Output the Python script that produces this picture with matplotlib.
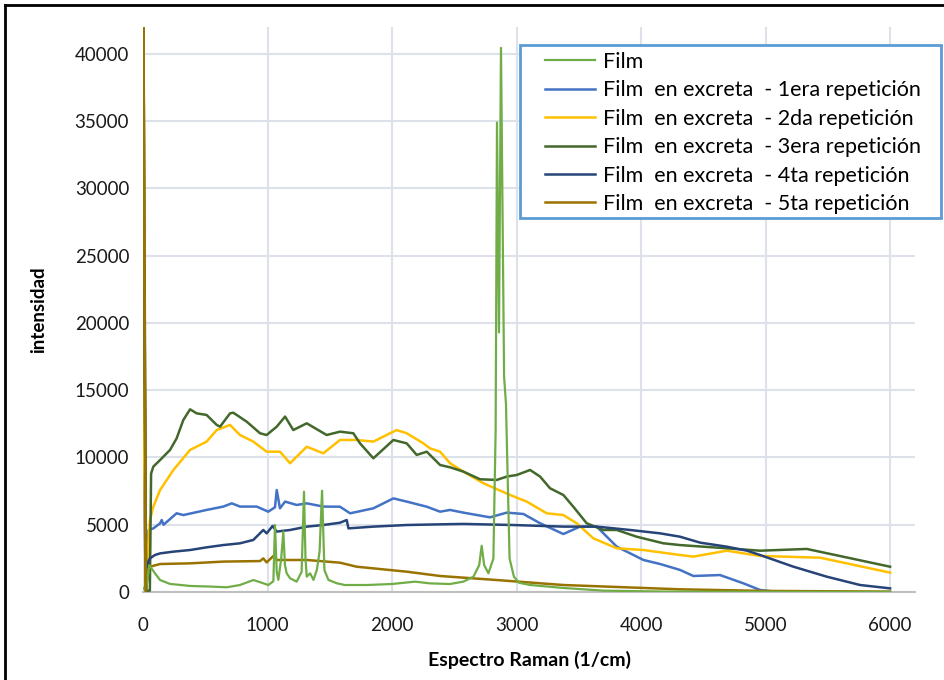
import matplotlib
matplotlib.use("Agg")
import matplotlib.pyplot as plt
from matplotlib.lines import Line2D
from matplotlib.patches import Rectangle

plt.rcParams['font.family'] = ['Lato', 'DejaVu Sans']

# Film
film_x = [0, 25, 50, 96, 137, 217, 378, 550, 672, 779, 886, 966, 1006, 1047, 1060, 1074, 1087, 1110, 1127,
          1140, 1154, 1181, 1234, 1274, 1293, 1305, 1315, 1342, 1369, 1396, 1418, 1438, 1457, 1489, 1556,
          1620, 1800, 2000, 2185, 2305, 2466, 2573, 2654, 2700, 2720, 2740, 2774, 2814, 2832, 2843, 2859,
          2875, 2900, 2915, 2930, 2944, 2979, 3019, 3109, 3376, 3700, 4200, 6000]
film_y = [300, 100, 2000, 1390, 890, 600, 450, 400, 350, 520, 890, 650, 520, 800, 4980, 1500, 900, 2500, 4490,
          2000, 1390, 1020, 770, 1500, 7460, 2500, 1140, 1390, 900, 1630, 3000, 7530, 1630, 900, 650,
          520, 520, 595, 770, 640, 595, 770, 1140, 2000, 3440, 2000, 1390, 2480, 12000, 34900, 19300,
          40450, 16000, 14000, 8000, 2480, 1140, 690, 520, 300, 100, 30, 0]

# 1era repeticion
rep1_x = [0, 4, 22, 45, 83, 137, 150, 165, 270, 324, 511, 645, 712, 780, 913, 1006, 1060, 1074, 1100, 1141,
          1234, 1315, 1448, 1582, 1663, 1850, 2011, 2118, 2279, 2386, 2466, 2573, 2787, 2921, 3055, 3189,
          3376, 3510, 3644, 3805, 4019, 4153, 4313, 4420, 4634, 4823, 4956, 5197]
rep1_y = [13000, 12000, 100, 4600, 4730, 5100, 5350, 5000, 5850, 5720, 6100, 6350, 6590, 6350, 6350, 5970,
          6300, 7580, 6220, 6720, 6470, 6590, 6350, 6340, 5850, 6220, 6960, 6720, 6340, 5970, 6100, 5900,
          5550, 5900, 5800, 5110, 4310, 4860, 4860, 3370, 2380, 2080, 1640, 1190, 1260, 640, 150, -100]

# 2da repeticion
rep2_x = [0, 2, 22, 45, 56, 83, 137, 244, 378, 511, 592, 699, 779, 886, 993, 1100, 1181, 1315, 1448, 1582,
          1716, 1850, 2037, 2118, 2252, 2305, 2386, 2466, 2573, 2734, 2948, 3082, 3242, 3376, 3483, 3617,
          3805, 4019, 4313, 4420, 4688, 4956, 5438, 6000]
rep2_y = [18400, 17000, 100, 4000, 5350, 6340, 7580, 9070, 10560, 11180, 12040, 12420, 11670, 11180, 10430,
          10430, 9570, 10800, 10310, 11300, 11300, 11180, 12040, 11800, 11050, 10680, 10430, 9570, 8950,
          8080, 7210, 6720, 5850, 5720, 5110, 3990, 3250, 3120, 2750, 2630, 3070, 2680, 2550, 1440]

# 3era repeticion
rep3_x = [0, 5, 25, 55, 65, 83, 137, 217, 270, 324, 378, 431, 511, 592, 619, 699, 725, 833, 940, 993, 1074,
          1141, 1207, 1315, 1475, 1582, 1689, 1743, 1850, 2011, 2118, 2198, 2279, 2386, 2466, 2573, 2707,
          2841, 2921, 3002, 3109, 3189, 3269, 3376, 3456, 3563, 3697, 3805, 3965, 4179, 4313, 4420, 4688,
          4956, 5331, 6000]
rep3_y = [43000, 40000, 100, 100, 8800, 9320, 9810, 10560, 11420, 12790, 13580, 13280, 13160, 12420, 12290,
          13280, 13330, 12660, 11800, 11670, 12290, 13040, 12040, 12540, 11670, 11920, 11800, 11050, 9940,
          11300, 11050, 10190, 10430, 9440, 9270, 8950, 8380, 8330, 8580, 8700, 9070, 8580, 7710, 7210,
          6340, 5110, 4610, 4610, 4110, 3620, 3490, 3420, 3250, 3070, 3200, 1880]

# 4ta repeticion
rep4_x = [0, 4, 25, 45, 56, 96, 137, 244, 378, 511, 645, 779, 886, 966, 993, 1041, 1074, 1181, 1315, 1448,
          1582, 1636, 1650, 1850, 2118, 2386, 2573, 2972, 3376, 3644, 3912, 4153, 4313, 4474, 4688, 4851,
          4956, 5224, 5491, 5759, 6000]
rep4_y = [42000, 30000, 100, 2300, 2500, 2750, 2870, 3000, 3120, 3320, 3490, 3620, 3870, 4610, 4360, 4910,
          4490, 4610, 4860, 4980, 5150, 5350, 4730, 4860, 4980, 5030, 5060, 4980, 4860, 4860, 4610, 4360,
          4110, 3670, 3370, 3070, 2750, 1880, 1140, 520, 270]

# 5ta repeticion
rep5_x = [0, 3, 22, 45, 56, 137, 378, 645, 940, 966, 993, 1047, 1074, 1315, 1582, 1716, 2118, 2386, 2841,
          3376, 4313, 5000, 6000]
rep5_y = [45000, 44000, 100, 1700, 1880, 2080, 2130, 2260, 2300, 2500, 2200, 2680, 2380, 2380, 2180, 1880,
          1510, 1190, 890, 520, 200, 80, 30]

labels = ['Film',
          'Film  en excreta  - 1era repetición',
          'Film  en excreta  - 2da repetición',
          'Film  en excreta  - 3era repetición',
          'Film  en excreta  - 4ta repetición',
          'Film  en excreta  - 5ta repetición']
colors = ['#70AD47', '#4472C4', '#FFC000', '#43682B', '#264478', '#997300']

fig = plt.figure(figsize=(9.44, 6.8), dpi=100)
ax = fig.add_axes([143/944, 88/680, 772/944, 565/680])

series = [(rep1_x, rep1_y), (rep2_x, rep2_y), (rep3_x, rep3_y), (rep4_x, rep4_y), (rep5_x, rep5_y)]
handles = []
h, = ax.plot(film_x, film_y, color=colors[0], lw=1.6, zorder=8)
handles.append(h)
for (xs, ys), c in zip(series, colors[1:]):
    h, = ax.plot(xs, ys, color=c, lw=1.8, zorder=3)
    handles.append(h)
# olive on top at the laser line
ax.plot(rep5_x[:3], rep5_y[:3], color=colors[5], lw=1.8, zorder=9)

ax.set_xlim(0, 6200)
ax.set_ylim(0, 42000)
ax.set_xticks(range(0, 7000, 1000))
ax.set_yticks(range(0, 45000, 5000))
ax.grid(True, color='#DCE1EA', lw=1.5)
ax.set_axisbelow(True)
for s in ['top', 'right', 'left']:
    ax.spines[s].set_visible(False)
ax.spines['bottom'].set_color('#BFBFBF')
ax.spines['bottom'].set_linewidth(1.5)
ax.tick_params(axis='x', length=0, labelsize=13.5, colors='#1a1a1a', pad=18)
ax.tick_params(axis='y', length=0, labelsize=13.5, colors='#1a1a1a', pad=10)

ax.set_xlabel('Espectro Raman (1/cm)', fontsize=14, fontweight='bold', labelpad=12)
ax.set_ylabel('intensidad', fontsize=13.5, fontweight='bold', labelpad=20)

# legend box drawn separately so the padding matches
fig.add_artist(Rectangle((520/944, 1 - 218/680), 421/944, 173/680, transform=fig.transFigure,
                         facecolor='white', edgecolor='#5B9BD5', lw=2, zorder=10))
leg = fig.legend(handles, labels, loc='upper left', bbox_to_anchor=(545/944, 1 - 52/680),
                 fontsize=15.5, frameon=False, handlelength=2.33, handletextpad=0.37,
                 labelspacing=0.39, borderpad=0, borderaxespad=0)
leg.set_zorder(11)

# chart area frame
fig.add_artist(Line2D([5/944, 1], [1 - 5/680, 1 - 5/680], color='black', lw=2))
fig.add_artist(Line2D([5/944, 5/944], [0, 1 - 5/680], color='black', lw=2))

fig.savefig('out.png', dpi=100)
